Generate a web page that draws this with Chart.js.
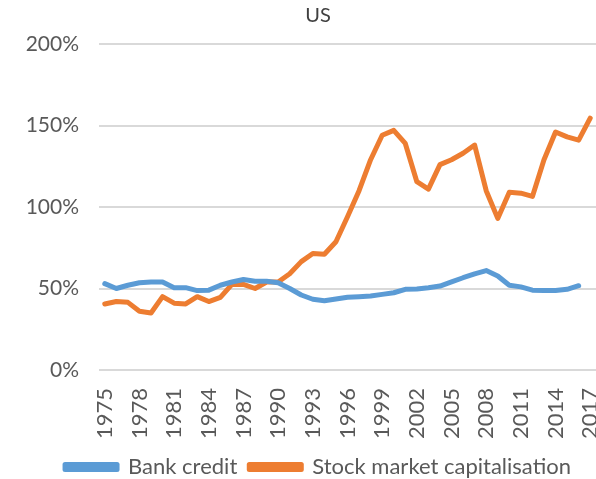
<!DOCTYPE html>
<html>
<head>
<meta charset="utf-8">
<script src="https://cdn.jsdelivr.net/npm/chart.js@4"></script>
<style>
  html, body { margin: 0; padding: 0; background: #fff; }
  #wrap { width: 596px; height: 479px; position: relative; }
</style>
</head>
<body>
<div id="wrap"><canvas id="chart"></canvas></div>
<script>
// Years on the category axis
const years = [];
for (let y = 1975; y <= 2017; y++) years.push(String(y));

// Bank credit, % of GDP
const bankCredit = [
    53, 50, 52, 53.5, 54, 54, 50.5, 50.5, 48.7, 49,
    52, 54, 55.5, 54.5, 54.5, 53.5, 50, 46, 43.4, 42.5,
    43.5, 44.6, 45, 45.4, 46.4, 47.4, 49.5, 49.7, 50.5, 51.5,
    54, 56.6, 59, 61, 57.7, 52, 51, 49, 48.8, 48.8,
    49.5, 51.7, null
];

// Stock market capitalisation, % of GDP
const stockCap = [
    40.5, 42, 41.5, 36, 35, 45, 41, 40.5, 45, 42,
    44.5, 52.5, 52.5, 50, 54, 54, 59, 66.5, 71.5, 71,
    78.7, 94, 110, 129, 144, 147, 139, 115.5, 111, 126,
    129, 133, 138, 110, 93, 109, 108.5, 106.5, 129, 146,
    143, 141, 154.5
];

const yTicks = [0, 50, 100, 150, 200];

const GREY = '#595959';
const FONT = 'Lato, "Open Sans", sans-serif';

// Excel centres title + legend a bit right of the canvas centre
const shiftBlocks = {
    id: 'shiftBlocks',
    afterLayout: (chart) => {
        if (chart.titleBlock) chart.titleBlock.left = 40;
        if (chart.legend) chart.legend.left = 40;
    },
};

const config = {
    type: 'line',
    data: {
        labels: years,
        datasets: [
            {
                label: 'Bank credit',
                data: bankCredit,
                borderColor: '#5B9BD5',
                backgroundColor: '#5B9BD5',
                borderWidth: 5,
                pointRadius: 0,
                tension: 0,
                fill: false,
                borderCapStyle: 'round',
                borderJoinStyle: 'round',
            },
            {
                label: 'Stock market capitalisation',
                data: stockCap,
                borderColor: '#ED7D31',
                backgroundColor: '#ED7D31',
                borderWidth: 5,
                pointRadius: 0,
                tension: 0,
                fill: false,
                borderCapStyle: 'round',
                borderJoinStyle: 'round',
            },
        ],
    },
    options: {
        responsive: true,
        maintainAspectRatio: false,
        animation: false,
        layout: {
            padding: { left: 0, right: 0, top: 4, bottom: -9 },
        },
        plugins: {
            title: {
                display: true,
                text: 'US',
                color: '#404040',
                font: { family: FONT, size: 20, weight: 'normal' },
                padding: { top: 0, bottom: 16 },
            },
            legend: {
                position: 'bottom',
                labels: {
                    color: GREY,
                    font: { family: FONT, size: 22 },
                    boxWidth: 52,
                    boxHeight: 5,
                    padding: 12,
                },
            },
            tooltip: { enabled: false },
        },
        scales: {
            x: {
                offset: true,
                grid: { display: false },
                border: { display: false },
                afterFit: (scale) => {
                    scale.paddingRight = 0;
                    scale.height = 74;
                },
                ticks: {
                    color: GREY,
                    font: { family: FONT, size: 22 },
                    autoSkip: false,
                    minRotation: 90,
                    maxRotation: 90,
                    padding: 10,
                    callback: (value, index) => (index % 3 === 0 ? years[index] : ''),
                },
            },
            y: {
                min: 0,
                max: 200,
                afterBuildTicks: (scale) => {
                    scale.ticks = yTicks.map((v) => ({ value: v }));
                },
                afterFit: (scale) => {
                    scale.width = 99;
                },
                grid: { color: '#D9D9D9', lineWidth: 2, drawTicks: false },
                border: { display: false },
                ticks: {
                    color: GREY,
                    font: { family: FONT, size: 21 },
                    padding: 20,
                    callback: (value) => `${value}%`,
                },
            },
        },
    },
    plugins: [shiftBlocks],
};

new Chart(document.getElementById('chart').getContext('2d'), config);
</script>
</body>
</html>
